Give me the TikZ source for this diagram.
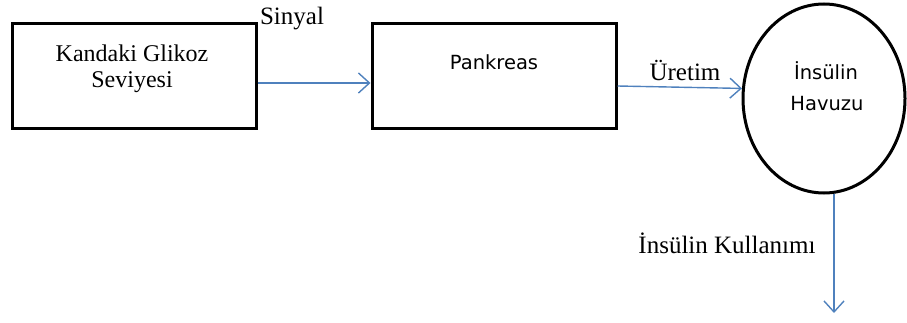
\documentclass[tikz,border=0pt]{standalone}
\usepackage{fontspec}
\usetikzlibrary{arrows.meta,shapes.geometric}
\newfontfamily\labelserif{Liberation Serif}
\newfontfamily\boxsans{DejaVu Sans}
\definecolor{flowblue}{RGB}{79,129,189}
\begin{document}
\begin{tikzpicture}[x=1pt,y=-1pt,
  shapebox/.style={draw=black,line width=3pt,rectangle,minimum width=244pt,minimum height=105pt,inner sep=0pt},
  poolshape/.style={draw=black,line width=3pt,ellipse,minimum width=162pt,minimum height=189pt,inner sep=0pt},
  flow/.style={draw=flowblue,line width=1.4pt,-{Straight Barb[length=11pt,width=20pt,line width=1.4pt]}},
  serifline/.style={font=\labelserif\fontsize{24}{26}\selectfont,inner sep=0pt,anchor=base},
  edgelabel/.style={font=\labelserif\fontsize{25}{30}\selectfont,inner sep=0pt,anchor=base},
  sansline/.style={font=\boxsans\fontsize{19.5}{24}\selectfont,inner sep=0pt,anchor=base}]
\useasboundingbox (0,0) rectangle (907,323);

% shapes
\node[shapebox] (glucose) at (134,76.5) {};
\node[shapebox] (pancreas) at (494,76.5) {};
\node[poolshape] (pool) at (824,98.5) {};

% texts inside the shapes
\node[serifline] (glucoseA) at (132,62) {Kandaki Glikoz};
\node[serifline] (glucoseB) at (132,88) {Seviyesi};
\node[sansline] (pancreasT) at (494,70) {Pankreas};
\node[sansline] (poolA) at (826,80) {İnsülin};
\node[sansline] (poolB) at (827,111) {Havuzu};

% connectors
\coordinate (usage) at (834,313);
\draw[flow] ([yshift=-6.5pt]glucose.east) -- ([yshift=-6.5pt]pancreas.west);
\draw[flow] ([yshift=-9.5pt]pancreas.east) -- (pool.173);
\draw[flow] (pool.south -| usage) -- (usage);

% connector labels
\node[edgelabel] (signal) at (292,25) {Sinyal};
\node[edgelabel] (production) at (685,81) {Üretim};
\node[edgelabel] (consumption) at (727,253) {İnsülin Kullanımı};
\end{tikzpicture}
\end{document}
